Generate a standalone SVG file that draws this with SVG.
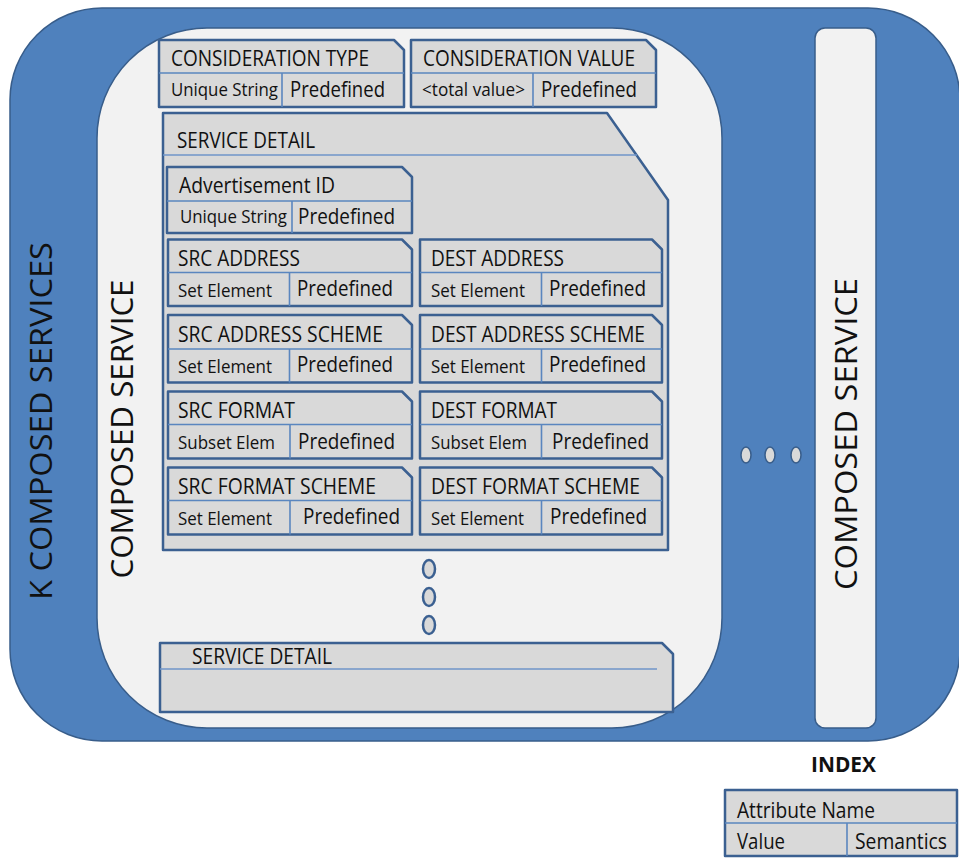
<svg xmlns="http://www.w3.org/2000/svg" width="959" height="858" viewBox="0 0 959 858">
  <style>
    text { font-family: "Open Sans", "Liberation Sans", sans-serif; fill: #111; }
    .hdr { font-size: 21.5px; }
    .val { font-size: 18.5px; }
    .pre { font-size: 22.5px; }
    .leg { font-size: 21px; }
    .big { font-size: 31px; }
    .outer { fill: #4f81bd; stroke: #385d8a; stroke-width: 1.5; }
    .panel { fill: #f2f2f2; stroke: #385d8a; stroke-width: 1.5; }
    .box { fill: #d9d9d9; stroke: #3b6091; stroke-width: 2.5; stroke-linejoin: round; }
    .div { stroke: #5a86bf; stroke-width: 1.6; fill: none; }
    .thin { stroke: #6f94c8; stroke-width: 1.3; fill: none; }
    .dot { fill: #d9d9d9; stroke: #3b6091; stroke-width: 2.5; }
    .hdot { fill: #d9d9d9; stroke: #385d8a; stroke-width: 1.5; }
  </style>

  <!-- background containers -->
  <g id="k-composed-services">
    <rect class="outer" x="10" y="8" width="950" height="733" rx="92"/>
    <text class="big" transform="translate(52,421) rotate(-90)" text-anchor="middle" textLength="358" lengthAdjust="spacingAndGlyphs">K COMPOSED SERVICES</text>
  </g>

  <g id="composed-service-1">
    <rect class="panel" x="97" y="28" width="625" height="700" rx="110"/>
    <text class="big" transform="translate(133,429) rotate(-90)" text-anchor="middle" textLength="299" lengthAdjust="spacingAndGlyphs">COMPOSED SERVICE</text>
  </g>

  <g id="composed-service-k">
    <rect class="panel" x="815" y="28" width="61" height="700" rx="10"/>
    <text class="big" transform="translate(857,434) rotate(-90)" text-anchor="middle" textLength="312" lengthAdjust="spacingAndGlyphs">COMPOSED SERVICE</text>
  </g>

  <g id="more-services">
    <ellipse class="hdot" cx="746" cy="455" rx="5" ry="8"/>
    <ellipse class="hdot" cx="770" cy="455" rx="5" ry="8"/>
    <ellipse class="hdot" cx="796" cy="455" rx="5" ry="8"/>
  </g>

  <!-- consideration attributes -->
  <g id="consideration-type">
    <path class="box" d="M159,40 H394 L404,50 V107 H159 Z"/>
    <path class="div" d="M159,73 H404 M282,73 V107"/>
    <text class="hdr" x="171" y="66" textLength="198" lengthAdjust="spacingAndGlyphs">CONSIDERATION TYPE</text>
    <text class="val" x="171" y="96" textLength="107" lengthAdjust="spacingAndGlyphs">Unique String</text>
    <text class="pre" x="290" y="97" textLength="95" lengthAdjust="spacingAndGlyphs">Predefined</text>
  </g>

  <g id="consideration-value">
    <path class="box" d="M411,40 H646 L656,50 V107 H411 Z"/>
    <path class="div" d="M411,73 H656 M533,73 V107"/>
    <text class="hdr" x="423" y="66" textLength="212" lengthAdjust="spacingAndGlyphs">CONSIDERATION VALUE</text>
    <text class="val" x="422" y="96" textLength="103" lengthAdjust="spacingAndGlyphs">&lt;total value&gt;</text>
    <text class="pre" x="541" y="97" textLength="96" lengthAdjust="spacingAndGlyphs">Predefined</text>
  </g>

  <!-- service detail (expanded) -->
  <g id="service-detail-1">
    <path class="box" d="M163,113 H607 L668,200 V550 H163 Z"/>
    <path class="thin" d="M163,155 H637"/>
    <text class="hdr" x="177" y="148" textLength="138" lengthAdjust="spacingAndGlyphs">SERVICE DETAIL</text>
  </g>

  <g id="advertisement-id">
    <path class="box" d="M167,167 H402 L412,177 V233 H167 Z"/>
    <path class="div" d="M167,201 H412 M292,201 V233"/>
    <text class="hdr" x="179" y="193" textLength="156" lengthAdjust="spacingAndGlyphs">Advertisement ID</text>
    <text class="val" x="180" y="223" textLength="107" lengthAdjust="spacingAndGlyphs">Unique String</text>
    <text class="pre" x="298" y="224" textLength="97" lengthAdjust="spacingAndGlyphs">Predefined</text>
  </g>

  <g id="src-address">
    <path class="box" d="M168,239.5 H402 L412,249.5 V306 H168 Z"/>
    <path class="div" d="M168,272.5 H412 M289.5,272.5 V306"/>
    <text class="hdr" x="178" y="266" textLength="122" lengthAdjust="spacingAndGlyphs">SRC ADDRESS</text>
    <text class="val" x="178" y="297" textLength="94" lengthAdjust="spacingAndGlyphs">Set Element</text>
    <text class="pre" x="297" y="296" textLength="96" lengthAdjust="spacingAndGlyphs">Predefined</text>
  </g>

  <g id="dest-address">
    <path class="box" d="M420,239.5 H652 L662,249.5 V306 H420 Z"/>
    <path class="div" d="M420,272.5 H662 M541.5,272.5 V306"/>
    <text class="hdr" x="431" y="266" textLength="133" lengthAdjust="spacingAndGlyphs">DEST ADDRESS</text>
    <text class="val" x="431" y="297" textLength="94" lengthAdjust="spacingAndGlyphs">Set Element</text>
    <text class="pre" x="549" y="296" textLength="97" lengthAdjust="spacingAndGlyphs">Predefined</text>
  </g>

  <g id="src-address-scheme">
    <path class="box" d="M168,315 H402 L412,325 V382.5 H168 Z"/>
    <path class="div" d="M168,349 H412 M289.5,349 V382.5"/>
    <text class="hdr" x="178" y="342" textLength="205" lengthAdjust="spacingAndGlyphs">SRC ADDRESS SCHEME</text>
    <text class="val" x="178" y="373" textLength="94" lengthAdjust="spacingAndGlyphs">Set Element</text>
    <text class="pre" x="297" y="372" textLength="96" lengthAdjust="spacingAndGlyphs">Predefined</text>
  </g>

  <g id="dest-address-scheme">
    <path class="box" d="M420,315 H652 L662,325 V382.5 H420 Z"/>
    <path class="div" d="M420,349 H662 M541.5,349 V382.5"/>
    <text class="hdr" x="431" y="342" textLength="214" lengthAdjust="spacingAndGlyphs">DEST ADDRESS SCHEME</text>
    <text class="val" x="431" y="373" textLength="94" lengthAdjust="spacingAndGlyphs">Set Element</text>
    <text class="pre" x="549" y="372" textLength="97" lengthAdjust="spacingAndGlyphs">Predefined</text>
  </g>

  <g id="src-format">
    <path class="box" d="M168,391.5 H402 L412,401.5 V458.5 H168 Z"/>
    <path class="div" d="M168,424.5 H412 M290,424.5 V458.5"/>
    <text class="hdr" x="178" y="418" textLength="117" lengthAdjust="spacingAndGlyphs">SRC FORMAT</text>
    <text class="val" x="178" y="448.5" textLength="97" lengthAdjust="spacingAndGlyphs">Subset Elem</text>
    <text class="pre" x="298" y="448.5" textLength="97" lengthAdjust="spacingAndGlyphs">Predefined</text>
  </g>

  <g id="dest-format">
    <path class="box" d="M420,391.5 H652 L662,401.5 V458.5 H420 Z"/>
    <path class="div" d="M420,424.5 H662 M541.5,424.5 V458.5"/>
    <text class="hdr" x="431" y="418" textLength="126" lengthAdjust="spacingAndGlyphs">DEST FORMAT</text>
    <text class="val" x="431" y="448.5" textLength="96" lengthAdjust="spacingAndGlyphs">Subset Elem</text>
    <text class="pre" x="552" y="448.5" textLength="97" lengthAdjust="spacingAndGlyphs">Predefined</text>
  </g>

  <g id="src-format-scheme">
    <path class="box" d="M168,467.5 H402 L412,477.5 V534.5 H168 Z"/>
    <path class="div" d="M168,500.5 H412 M290,500.5 V534.5"/>
    <text class="hdr" x="178" y="494" textLength="198" lengthAdjust="spacingAndGlyphs">SRC FORMAT SCHEME</text>
    <text class="val" x="178" y="524.5" textLength="94" lengthAdjust="spacingAndGlyphs">Set Element</text>
    <text class="pre" x="303" y="523.5" textLength="97" lengthAdjust="spacingAndGlyphs">Predefined</text>
  </g>

  <g id="dest-format-scheme">
    <path class="box" d="M420,467.5 H652 L662,477.5 V534.5 H420 Z"/>
    <path class="div" d="M420,500.5 H662 M541.5,500.5 V534.5"/>
    <text class="hdr" x="431" y="494" textLength="209" lengthAdjust="spacingAndGlyphs">DEST FORMAT SCHEME</text>
    <text class="val" x="431" y="524.5" textLength="93" lengthAdjust="spacingAndGlyphs">Set Element</text>
    <text class="pre" x="550" y="523.5" textLength="97" lengthAdjust="spacingAndGlyphs">Predefined</text>
  </g>

  <!-- further service details -->
  <g id="more-details">
    <ellipse class="dot" cx="429" cy="569" rx="6" ry="9"/>
    <ellipse class="dot" cx="429" cy="597" rx="6" ry="9"/>
    <ellipse class="dot" cx="429" cy="625" rx="6" ry="9"/>
  </g>

  <g id="service-detail-n">
    <path class="box" d="M160,643 H662 L673,654 V712 H160 Z"/>
    <path class="thin" d="M160,669 H657"/>
    <text class="hdr" x="192" y="664" textLength="140" lengthAdjust="spacingAndGlyphs">SERVICE DETAIL</text>
  </g>

  <!-- legend -->
  <g id="index">
    <text x="811" y="772" textLength="65" lengthAdjust="spacingAndGlyphs" style="font-size:21px;font-weight:bold">INDEX</text>
    <rect class="box" x="725" y="790" width="232" height="66" stroke-width="2"/>
    <path class="div" d="M725,823 H957 M847,823 V856" stroke="#3b6091"/>
    <text class="leg" x="737" y="818" textLength="138" lengthAdjust="spacingAndGlyphs">Attribute Name</text>
    <text class="leg" x="737" y="849" textLength="48" lengthAdjust="spacingAndGlyphs">Value</text>
    <text class="leg" x="855" y="849" textLength="92" lengthAdjust="spacingAndGlyphs">Semantics</text>
  </g>
</svg>
